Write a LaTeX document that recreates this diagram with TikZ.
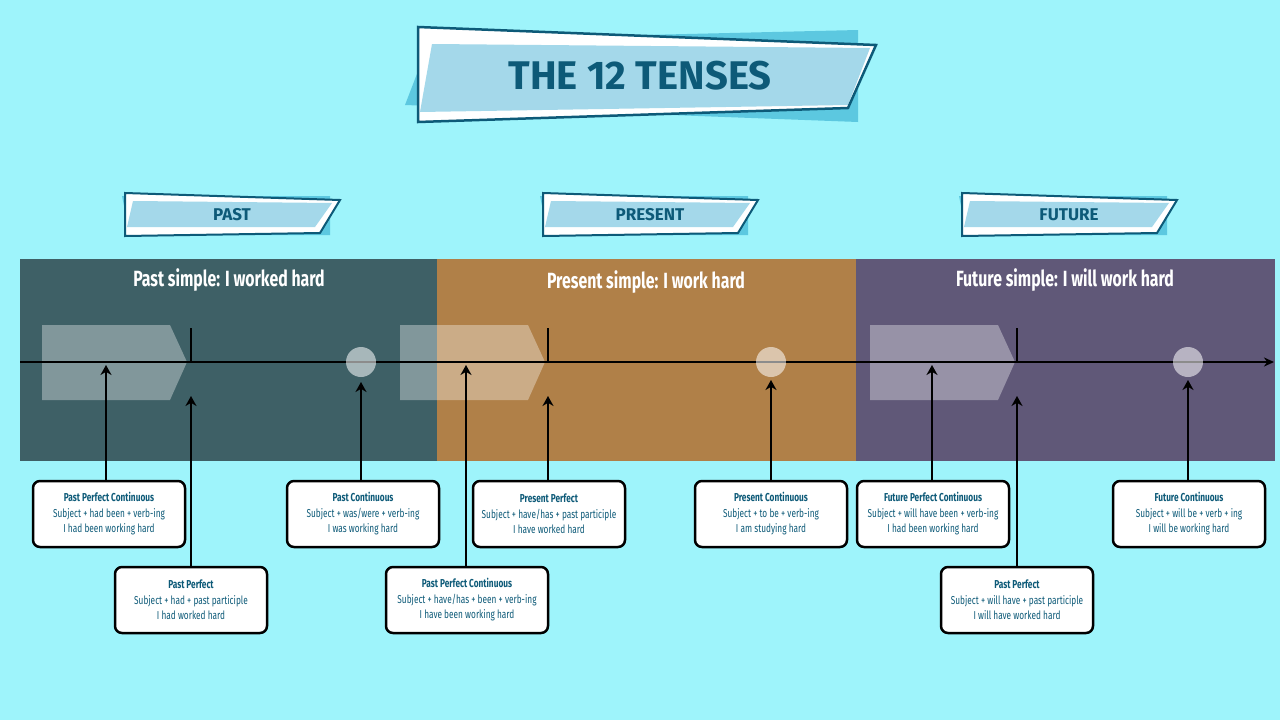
\documentclass[tikz,border=0pt]{standalone}
\usepackage{fontspec}
\setmainfont{Fira Sans}
\newfontfamily\condfont{Fira Sans}[FakeStretch=0.72]
\usetikzlibrary{positioning, arrows.meta}
\definecolor{bgcyan}{HTML}{9EF4FB}
\definecolor{pastband}{HTML}{3E6066}
\definecolor{presentband}{HTML}{B08048}
\definecolor{futureband}{HTML}{605878}
\definecolor{tealtext}{HTML}{0D5A78}
\definecolor{banner}{HTML}{A4D8EA}
\definecolor{bannerback}{HTML}{5CC8E0}
\tikzset{
x=1pt, y=-1pt,
tense/.style={draw=black, line width=2.5pt, fill=white, rounded corners=7pt,
  minimum width=152pt, minimum height=66pt, align=center, inner sep=2pt,
  text=tealtext, font=\condfont\fontsize{11.5}{15.5}\selectfont}, % note boxes
pointer/.style={-{Stealth[length=10pt,width=11pt]}, line width=2.3pt},
chevron/.style={fill=white, fill opacity=0.35},
bandtitle/.style={text=white, font=\condfont\bfseries\fontsize{22}{24}\selectfont},
}
\newcommand{\tabbanner}[3]{% x, y, label
  \fill[bannerback] (#1-3,#2+3) -- (#1+205,#2+3) -- (#1+205,#2+42) -- (#1+5,#2+42) -- cycle;
  \fill[white] (#1,#2) -- (#1+215,#2+7) -- (#1+195,#2+40) -- (#1,#2+43) -- cycle;
  \fill[banner] (#1+8,#2+8) -- (#1+207,#2+10) -- (#1+190,#2+34) -- (#1+2,#2+34) -- cycle;
  \draw[tealtext, line width=2pt] (#1,#2) -- (#1+215,#2+7) -- (#1+195,#2+40) -- (#1,#2+43) -- cycle;
  \node[text=tealtext, font=\bfseries\fontsize{17}{18}\selectfont] at (#1+107,#2+22) {#3};
}
\begin{document}
\begin{tikzpicture}
\fill[bgcyan] (0,0) rectangle (1280,720);
% title banner
\fill[bannerback] (405,105) -- (430,40) -- (858,30) -- (858,122) -- cycle;
\fill[white] (418,27) -- (876,45) -- (848,108) -- (418,122) -- cycle;
\fill[banner] (432,44) -- (870,48) -- (848,105) -- (420,112) -- cycle;
\draw[tealtext, line width=2.5pt] (418,27) -- (876,45) -- (848,108) -- (418,122) -- cycle;
\node[text=tealtext, font=\bfseries\fontsize{40}{42}\selectfont] (title) at (640,76) {THE 12 TENSES};
% period tabs
\tabbanner{125}{193}{PAST}
\tabbanner{543}{193}{PRESENT}
\tabbanner{962}{193}{FUTURE}
% bands
\fill[pastband] (20,259) rectangle (437,461);
\fill[presentband] (437,259) rectangle (856,461);
\fill[futureband] (856,259) rectangle (1275,461);
\node[bandtitle] (pastsimple) at (229,280) {Past simple: I worked hard};
\node[bandtitle] (presentsimple) at (646,282) {Present simple: I work hard};
\node[bandtitle] (futuresimple) at (1065,280) {Future simple: I will work hard};
% chevrons
\foreach \cx in {42, 400, 870}
  \fill[chevron] (\cx,325) -- (\cx+128,325) -- (\cx+145,362) -- (\cx+128,400) -- (\cx,400) -- cycle;
% timeline
\coordinate (tstart) at (20,362);
\coordinate (tend) at (1274,362);
\draw[-{Stealth[length=10pt,width=9pt]}, line width=1.8pt] (tstart) -- (tend);
\foreach \vx in {191, 548, 1017}
  \draw[line width=2.3pt] (\vx,328) -- (\vx,362);
\foreach \cx in {361, 771, 1188}
  \fill[white, fill opacity=0.55] (\cx,362) circle (15);
% note boxes
\node[tense] (ppc) at (109,514) {{\bfseries Past Perfect Continuous}\\Subject + had been + verb-ing\\I had been working hard};
\node[tense] (pc) at (363,514) {{\bfseries Past Continuous}\\Subject + was/were + verb-ing\\I was working hard};
\node[tense] (prp) at (549,514) {{\bfseries Present Perfect}\\Subject + have/has + past participle\\I have worked hard};
\node[tense] (prc) at (771,514) {{\bfseries Present Continuous}\\Subject + to be + verb-ing\\I am studying hard};
\node[tense] (fpc) at (933,514) {{\bfseries Future Perfect Continuous}\\Subject + will have been + verb-ing\\I had been working hard};
\node[tense] (fc) at (1189,514) {{\bfseries Future Continuous}\\Subject + will be + verb + ing\\I will be working hard};
\node[tense] (pp) at (191,600) {{\bfseries Past Perfect}\\Subject + had + past participle\\I had worked hard};
\node[tense, minimum width=162pt] (prpc) at (467,600) {{\bfseries Past Perfect Continuous}\\Subject + have/has + been + verb-ing\\I have been working hard};
\node[tense] (fp) at (1017,600) {{\bfseries Past Perfect}\\Subject + will have + past participle\\I will have worked hard};
% pointers
\coordinate (a1) at (106,365);
\coordinate (a2) at (191,396);
\coordinate (a3) at (361,382);
\coordinate (a4) at (466,365);
\coordinate (a5) at (548,396);
\coordinate (a6) at (771,380);
\coordinate (a7) at (932,365);
\coordinate (a8) at (1017,396);
\coordinate (a9) at (1188,380);
\draw[pointer] (ppc.north -| a1) -- (a1);
\draw[pointer] (pp.north) -- (a2);
\draw[pointer] (pc.north -| a3) -- (a3);
\draw[pointer] (prpc.north -| a4) -- (a4);
\draw[pointer] (prp.north -| a5) -- (a5);
\draw[pointer] (prc.north) -- (a6);
\draw[pointer] (fpc.north -| a7) -- (a7);
\draw[pointer] (fp.north) -- (a8);
\draw[pointer] (fc.north -| a9) -- (a9);
\end{tikzpicture}
\end{document}
